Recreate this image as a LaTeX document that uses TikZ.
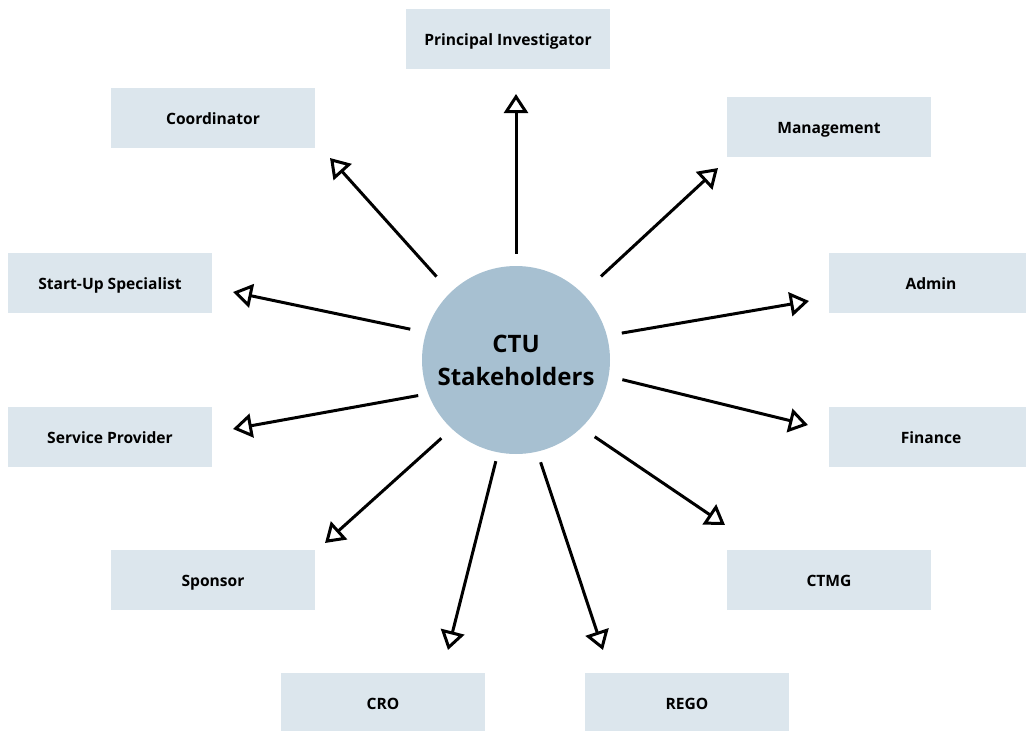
\documentclass[tikz,border=0pt]{standalone}
\usepackage{fontspec}
\setmainfont{Open Sans}
\usepackage{xcolor}
\usepackage{tikz}
\usetikzlibrary{arrows.meta}
\definecolor{boxfill}{RGB}{220,230,237}
\definecolor{hubfill}{RGB}{167,192,209}

\begin{document}
\begin{tikzpicture}[x=1pt, y=-1pt,
    role/.style={fill=boxfill, minimum width=204pt, minimum height=60pt, inner sep=0pt, text height=12pt, text depth=0pt, font=\fontsize{15.6}{19}\selectfont\bfseries},
    link/.style={line width=3pt, -{Triangle[open, length=19pt, width=24pt]}}]
    \useasboundingbox (0,0) rectangle (1026,731);
    \node[circle, fill=hubfill, minimum size=188pt, inner sep=0pt, align=center, font=\fontsize{24}{33}\selectfont\bfseries] (hub) at (516,360) {CTU\\Stakeholders};
    \node[role] (pi) at (508,39) {Principal Investigator};
    \node[role] (co) at (213,118) {Coordinator};
    \node[role] (ma) at (829,127) {Management};
    \node[role] (su) at (110,283) {Start-Up Specialist};
    \node[role] (ad) at (931,283) {Admin};
    \node[role] (sp) at (110,437) {Service Provider};
    \node[role] (fi) at (931,437) {Finance};
    \node[role] (sn) at (213,580) {Sponsor};
    \node[role] (ct) at (829,580) {CTMG};
    \node[role] (cr) at (383,703) {CRO};
    \node[role] (re) at (687,703) {REGO};
    % arrow tips, just short of the boxes
    \coordinate (tpi) at (516,94);  \coordinate (tco) at (330,158);
    \coordinate (tma) at (718,168); \coordinate (tsu) at (233,292);
    \coordinate (tad) at (809,301); \coordinate (tsp) at (233,429);
    \coordinate (tfi) at (808,425); \coordinate (tsn) at (325,543);
    \coordinate (tct) at (725,525); \coordinate (tcr) at (448,650);
    \coordinate (tre) at (603,650);
    \foreach \ang/\gap/\t in {90/12/tpi, 134/21/tco, 45/25/tma, 163/16/tsu, 15/15/tad,
        201/10/tsp, -10/14/tfi, 227/14/tsn, -46/16/tct, 259/9/tcr, 283/11/tre}
      \draw[link, shorten <=\gap pt] (hub.\ang) -- (\t);
\end{tikzpicture}
\end{document}
